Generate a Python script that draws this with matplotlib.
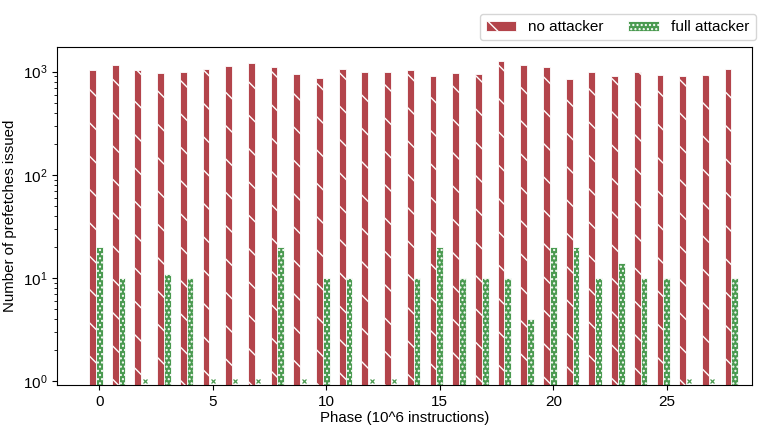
import numpy as np
import matplotlib.pyplot as plt

plt.rcParams['font.family'] = ['Liberation Sans', 'DejaVu Sans']
plt.rcParams['mathtext.default'] = 'regular'
plt.rcParams['hatch.linewidth'] = 1.0

# prefetches issued per phase (10^6 instructions)
phases = np.arange(29)
no_attacker = [1030, 1150, 1030, 970, 985, 1060, 1125, 1200, 1100, 950,
               860, 1060, 1000, 1000, 1045, 908, 970, 957, 1270, 1160,
               1110, 850, 993, 900, 985, 930, 900, 920, 1052]
full_attacker = [20, 10, 0, 11, 10, 0, 0, 0, 20, 0,
                 10, 10, 0, 0, 10, 20, 10, 10, 10, 4,
                 20, 20, 10, 14, 10, 10, 0, 0, 10]

red = '#b3444b'
green = '#4a9a50'
w = 0.3

fig, ax = plt.subplots(figsize=(7.61, 4.25), dpi=100)
fig.subplots_adjust(left=0.075, right=0.988, top=0.89, bottom=0.093)

ax.bar(phases - w, no_attacker, width=w, color=red, edgecolor='white',
       hatch='\\', linewidth=0.6, label='no attacker')

fa = np.array(full_attacker, dtype=float)
ax.bar(phases, fa, width=w, color=green, edgecolor='white',
       hatch='....', linewidth=0.6, label='full attacker')

# zero counts can't show on a log axis, mark them instead
zero = fa == 0
ax.plot(phases[zero], np.ones(zero.sum()), 'x', color=green,
        markersize=3.2, markeredgewidth=0.9, linestyle='none')

ax.set_yscale('log')
ax.set_ylim(0.915, 1740)
ax.set_xlim(-1.86, 28.75)
ax.set_xticks([0, 5, 10, 15, 20, 25])
ax.tick_params(labelsize=11)
ax.set_xlabel('Phase (10^6 instructions)', fontsize=10.8, labelpad=1)
ax.set_ylabel('Number of prefetches issued', fontsize=10.8)

ax.legend(loc='lower right', bbox_to_anchor=(1.012, 1.005), ncol=2,
          fontsize=11, frameon=True, borderaxespad=0.3,
          handlelength=2.0, handletextpad=0.8, columnspacing=1.6)

fig.savefig('out.png', dpi=100)
